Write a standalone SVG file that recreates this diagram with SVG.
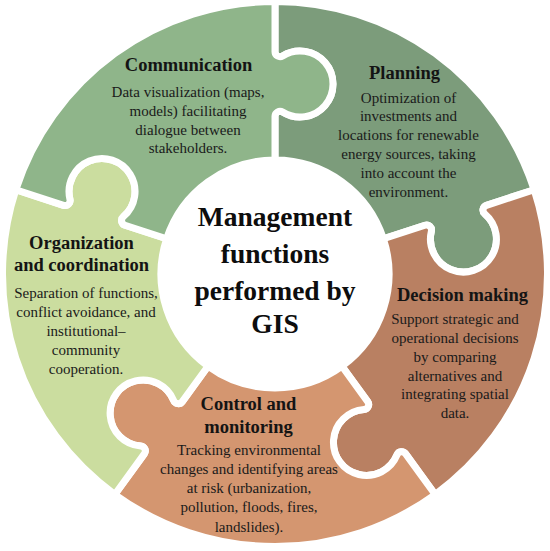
<svg xmlns="http://www.w3.org/2000/svg" width="550" height="551" viewBox="0 0 550 551">
<style>
  .piece { stroke: #ffffff; stroke-width: 7; stroke-linejoin: round; }
  .title { font-family: "Liberation Serif", "Times New Roman", serif; font-weight: bold; font-size: 18.5px; fill: #141414; text-anchor: middle; }
  .body { font-family: "Liberation Serif", "Times New Roman", serif; font-size: 15px; fill: #1a1a1a; text-anchor: middle; }
  .main { font-family: "Liberation Serif", "Times New Roman", serif; font-weight: bold; font-size: 27.5px; fill: #0d0d0d; text-anchor: middle; }
</style>
<rect x="0" y="0" width="550" height="551" fill="#ffffff"/>
<g id="connectors"></g>

<g id="planning">
  <path class="piece" fill="#7c9c7b" d="M 275,1.5 A 272.5 272.5 0 0 1 534.16,189.79 L 486.43,205.30 A 5 5 0 0 0 484.75,213.87 A 33 33 0 1 1 431.37,231.21 A 5 5 0 0 0 424.97,225.27 L 383.42,238.77 A 114 114 0 0 0 275,160 L 275,116.31 A 5 5 0 0 1 282.63,112.06 A 33 33 0 1 0 282.63,55.94 A 5 5 0 0 1 275,51.69 Z"/>
  <text class="title" x="404.5" y="79">Planning</text>
  <text class="body" x="408.5" y="102.5">Optimization of</text>
  <text class="body" x="408.5" y="121.3">investments and</text>
  <text class="body" x="408.5" y="140">locations for renewable</text>
  <text class="body" x="408.5" y="159">energy sources, taking</text>
  <text class="body" x="408.5" y="178">into account the</text>
  <text class="body" x="408.5" y="196.8">environment.</text>
</g>

<g id="decision-making">
  <path class="piece" fill="#b98062" d="M 534.16,189.79 A 272.5 272.5 0 0 1 435.17,494.46 L 405.67,453.85 A 5 5 0 0 0 397.00,454.90 A 33 33 0 1 1 364.01,409.50 A 5 5 0 0 0 367.69,401.57 L 342.01,366.23 A 114 114 0 0 0 383.42,238.77 L 424.97,225.27 A 5 5 0 0 1 431.37,231.21 A 33 33 0 1 0 484.75,213.87 A 5 5 0 0 1 486.43,205.30 Z"/>
  <text class="title" x="462.5" y="301">Decision making</text>
  <text class="body" x="455" y="323.5">Support strategic and</text>
  <text class="body" x="455" y="342.5">operational decisions</text>
  <text class="body" x="455" y="361.5">by comparing</text>
  <text class="body" x="455" y="380.5">alternatives and</text>
  <text class="body" x="455" y="399.3">integrating spatial</text>
  <text class="body" x="455" y="418.3">data.</text>
</g>

<g id="control-monitoring">
  <path class="piece" fill="#d49670" d="M 435.17,494.46 A 272.5 272.5 0 0 1 114.83,494.46 L 144.33,453.85 A 5 5 0 0 0 140.66,445.93 A 33 33 0 1 1 173.64,400.53 A 5 5 0 0 0 182.31,401.57 L 207.99,366.23 A 114 114 0 0 0 342.01,366.23 L 367.69,401.57 A 5 5 0 0 1 364.01,409.50 A 33 33 0 1 0 397.00,454.90 A 5 5 0 0 1 405.67,453.85 Z"/>
  <text class="title" x="248.5" y="410">Control and</text>
  <text class="title" x="248.5" y="433.3">monitoring</text>
  <text class="body" x="249" y="455">Tracking environmental</text>
  <text class="body" x="249" y="474.2">changes and identifying areas</text>
  <text class="body" x="249" y="493.3">at risk (urbanization,</text>
  <text class="body" x="249" y="512.4">pollution, floods, fires,</text>
  <text class="body" x="249" y="531.5">landslides).</text>
</g>

<g id="organization-coordination">
  <path class="piece" fill="#cbdd9f" d="M 114.83,494.46 A 272.5 272.5 0 0 1 15.84,189.79 L 63.57,205.30 A 5 5 0 0 0 69.97,199.36 A 33 33 0 1 1 123.35,216.70 A 5 5 0 0 0 125.03,225.27 L 166.58,238.77 A 114 114 0 0 0 207.99,366.23 L 182.31,401.57 A 5 5 0 0 1 173.64,400.53 A 33 33 0 1 0 140.66,445.93 A 5 5 0 0 1 144.33,453.85 Z"/>
  <text class="title" x="81.5" y="249.3">Organization</text>
  <text class="title" x="81.5" y="270.5">and coordination</text>
  <text class="body" x="86" y="298.3">Separation of functions,</text>
  <text class="body" x="86" y="317">conflict avoidance, and</text>
  <text class="body" x="86" y="336">institutional–</text>
  <text class="body" x="86" y="355">community</text>
  <text class="body" x="86" y="374.3">cooperation.</text>
</g>

<g id="communication">
  <path class="piece" fill="#8fb58a" d="M 15.84,189.79 A 272.5 272.5 0 0 1 275,1.5 L 275,51.69 A 5 5 0 0 0 282.63,55.94 A 33 33 0 1 1 282.63,112.06 A 5 5 0 0 0 275,116.31 L 275,160 A 114 114 0 0 0 166.58,238.77 L 125.03,225.27 A 5 5 0 0 1 123.35,216.70 A 33 33 0 1 0 69.97,199.36 A 5 5 0 0 1 63.57,205.30 Z"/>
  <text class="title" x="188.5" y="71">Communication</text>
  <text class="body" x="188" y="96.5">Data visualization (maps,</text>
  <text class="body" x="188" y="115.5">models) facilitating</text>
  <text class="body" x="188" y="134.5">dialogue between</text>
  <text class="body" x="188" y="153">stakeholders.</text>
</g>

<g id="center">
  <text class="main" x="275" y="226">Management</text>
  <text class="main" x="275" y="263">functions</text>
  <text class="main" x="275" y="299.5">performed by</text>
  <text class="main" x="275" y="333">GIS</text>
</g>
</svg>
